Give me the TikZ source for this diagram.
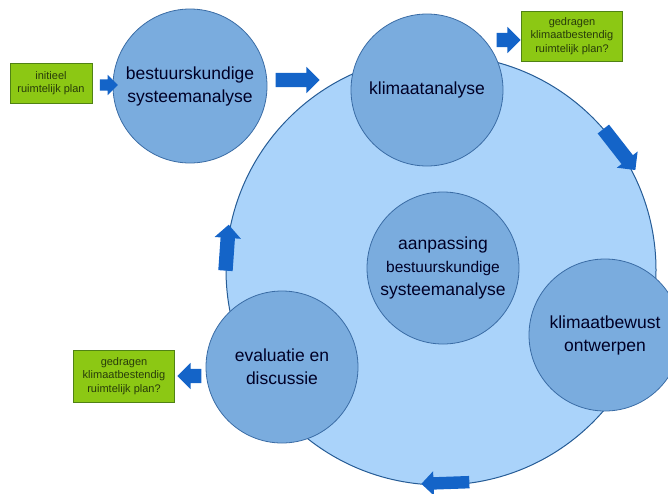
\documentclass[tikz,border=0pt]{standalone}
\usepackage{fontspec}
\setmainfont{Liberation Sans}
\usetikzlibrary{calc,positioning,shapes.arrows}

\definecolor{ringfill}{RGB}{170,211,250}
\definecolor{ringline}{RGB}{38,92,150}
\definecolor{stepfill}{RGB}{122,172,222}
\definecolor{stepline}{RGB}{58,108,165}
\definecolor{planfill}{RGB}{140,200,20}
\definecolor{planline}{RGB}{80,130,20}
\definecolor{plantext}{RGB}{40,60,10}
\definecolor{flowblue}{RGB}{20,100,200}

\begin{document}
\begin{tikzpicture}[x=1pt,y=-1pt,
  every node/.style={align=center,font=\fontsize{17.5}{23}\selectfont,text=black!85!blue},
  stepcircle/.style={circle,fill=stepfill,draw=stepline,line width=.8pt,minimum size=152pt,inner sep=0pt},
  planbox/.style={rectangle,fill=planfill,draw=planline,line width=.8pt,text=plantext,font=\fontsize{11}{13.3}\selectfont,inner sep=0pt},
  flow/.style={single arrow,fill=flowblue,draw=none,single arrow head extend=6pt,inner xsep=0pt,inner ysep=7pt}]

\useasboundingbox (0,0) rectangle (668,493);

\node[circle,fill=ringfill,draw=ringline,line width=1pt,minimum size=430pt] (cycle) at (441,270) {};

\node[stepcircle,minimum size=154pt] (bsa) at (190,86) {bestuurskundige\\systeemanalyse};
\node[stepcircle] (klim) at (427,90) {klimaatanalyse};
\node[stepcircle] (aanp) at (443,268) {aanpassing\\\fontsize{15.5}{20}\selectfont bestuurskundige\\systeemanalyse};
\node[stepcircle] (ontw) at (605,335) {klimaatbewust\\ontwerpen};
\node[stepcircle] (eval) at (282,367) {evaluatie en\\discussie};

\node[planbox,minimum width=82pt,minimum height=40pt] (init) at (51,83) {initieel\\ruimtelijk plan};
\node[planbox,minimum width=101pt,minimum height=50pt] (outtop) at (572,36) {gedragen\\klimaatbestendig\\ruimtelijk plan?};
\node[planbox,minimum width=101pt,minimum height=52pt] (outbot) at (124,376) {gedragen\\klimaatbestendig\\ruimtelijk plan?};

% arrows between the blocks
\node[flow,minimum height=18pt,inner ysep=5.5pt,single arrow head extend=4.5pt] (a1) at (106,85) {};
\node[flow,minimum height=44pt] (a2) at (294,80) {};
\node[flow,minimum height=24pt] (a3) at (505,40) {};
\node[flow,minimum height=24pt,rotate=180] (a4) at (193,376) {};

% arrows on the cycle
\node[flow,minimum height=52pt,rotate=-52] (c1) at ($(cycle.center)+(35:215pt)$) {};
\node[flow,minimum height=48pt,inner ysep=6pt,rotate=-178] (c2) at ($(cycle.center)+(-88:213pt)$) {};
\node[flow,minimum height=46pt,rotate=86] (c3) at ($(cycle.center)+(175:215pt)$) {};

\end{tikzpicture}
\end{document}
